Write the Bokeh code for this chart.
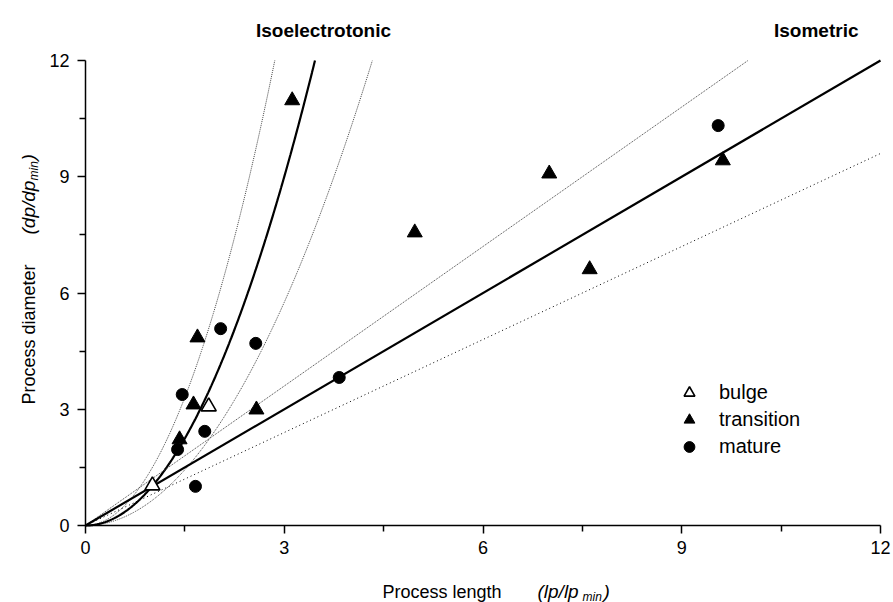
import numpy as np
from bokeh.plotting import figure
from bokeh.models import Range1d, FixedTicker, Label, Legend, LegendItem
from bokeh.embed import file_html
from bokeh.resources import INLINE

# ---------------- data ----------------
bulge_x = [1.01, 1.86]
bulge_y = [1.03, 3.07]
transition_x = [1.42, 1.63, 1.69, 2.58, 3.12, 4.97, 7.00, 7.61, 9.62]
transition_y = [2.22, 3.12, 4.85, 2.99, 10.97, 7.56, 9.08, 6.61, 9.42]
mature_x = [1.39, 1.46, 1.66, 1.80, 2.04, 2.57, 3.83, 9.55]
mature_y = [1.96, 3.38, 1.01, 2.43, 5.08, 4.70, 3.82, 10.32]

# model curves: isoelectrotonic  d = k * l^2 ; isometric  d = s * l
isoelectrotonic_k = [1.0, 1.47, 0.64]      # fit, upper, lower
isometric_s = [1.0, 1.2, 0.8]              # fit, upper, lower
axis_max = 12.0

major_ticks = [0, 3, 6, 9, 12]
minor_ticks = [1.5, 4.5, 7.5, 10.5]

FONT = "Liberation Sans"

# ---------------- figure ----------------
W, H = 893, 602
L, R, T, B = 85, 13, 60, 77          # where the 0..12 box sits inside the canvas
ppx = (W - L - R) / axis_max
ppy = (H - T - B) / axis_max
p = figure(width=W, height=H,
           x_range=Range1d(-L / ppx, axis_max + R / ppx),
           y_range=Range1d(-B / ppy, axis_max + T / ppy),
           output_backend="svg", toolbar_location=None,
           min_border_left=0, min_border_right=0, min_border_top=0, min_border_bottom=0)
p.grid.visible = False
p.outline_line_color = None
p.background_fill_color = "white"
p.border_fill_color = "white"

def dx(px):
    return (px - L) / ppx
def dy(py):
    return (H - B - py) / ppy

for ax in (p.xaxis[0], p.yaxis[0]):
    ax.fixed_location = 0
    ax.bounds = (0, axis_max)
    ax.ticker = FixedTicker(ticks=major_ticks, minor_ticks=minor_ticks)
    ax.axis_line_width = 1.5
    ax.axis_line_color = "black"
    ax.major_tick_line_width = 1.5
    ax.minor_tick_line_width = 1.5
    ax.major_tick_line_color = "black"
    ax.minor_tick_line_color = "black"
    ax.major_tick_in = 0
    ax.major_tick_out = 8
    ax.minor_tick_in = 0
    ax.minor_tick_out = 6
    ax.major_label_text_font = FONT
    ax.major_label_text_font_size = "18px"
    ax.major_label_text_color = "black"
p.xaxis[0].major_label_standoff = 7
p.yaxis[0].major_label_standoff = 8

# ---------------- model curves ----------------
k_fit, k_up, k_lo = isoelectrotonic_k
for k, col, lw, dash in ((k_up, "#444444", 1, "1 1"), (k_lo, "#444444", 1, "1 1"),
                         (k_fit, "black", 2.2, "solid")):
    xs = np.linspace(0, np.sqrt(axis_max / k), 300)
    p.line(xs, k * xs ** 2, line_color=col, line_width=lw, line_dash=dash)

s_fit, s_up, s_lo = isometric_s
for s, col, lw, dash in ((s_up, "#444444", 1, "1 1"), (s_lo, "black", 1, "1 3"),
                         (s_fit, "black", 2.2, "solid")):
    xe = min(axis_max, axis_max / s)
    xl = np.array([0.0, xe])
    p.line(xl, s * xl, line_color=col, line_width=lw, line_dash=dash)

# ---------------- data points ----------------
r_b = p.scatter(bulge_x, bulge_y, marker="triangle", size=15,
                fill_color="white", line_color="black", line_width=1.6)
r_t = p.scatter(transition_x, transition_y, marker="triangle", size=15,
                fill_color="black", line_color="black")
r_m = p.scatter(mature_x, mature_y, marker="circle", size=12,
                fill_color="black", line_color="black")

legend = Legend(items=[LegendItem(label="bulge", renderers=[r_b]),
                       LegendItem(label="transition", renderers=[r_t]),
                       LegendItem(label="mature", renderers=[r_m])],
                location=(673, 142), orientation="vertical",
                border_line_color=None, background_fill_alpha=0,
                padding=0, margin=0, spacing=0,
                glyph_width=32, glyph_height=27, label_standoff=14,
                label_text_font=FONT, label_text_font_size="20px",
                label_text_color="black", label_height=20)
p.add_layout(legend, "center")

# ---------------- texts ----------------
def lab(text, px, py, size="18px", style="normal", align="left", angle=0.0):
    p.add_layout(Label(x=dx(px), y=dy(py), text=text, text_font=FONT,
                       text_font_size=size, text_font_style=style,
                       text_align=align, text_baseline="alphabetic",
                       text_color="black", angle=angle, angle_units="rad"))

lab("Isoelectrotonic", 323, 30, size="19px", style="bold", align="center")
lab("Isometric", 858, 30, size="19px", style="bold", align="right")

# x-axis title
lab("Process length", 382, 591)
lab("(lp/lp", 537, 591, size="19px", style="italic")
lab("min", 582, 596, size="12px", style="italic")
lab(")", 603, 591, size="19px", style="italic")

# y-axis title (rotated)
A = np.pi / 2
lab("Process diameter", 28, 404, angle=A)
lab("(dp/dp", 28, 234, size="19px", style="italic", angle=A)
lab("min", 33, 180, size="12px", style="italic", angle=A)
lab(")", 28, 160, size="19px", style="italic", angle=A)

open("out.html", "w").write(file_html(p, INLINE))
